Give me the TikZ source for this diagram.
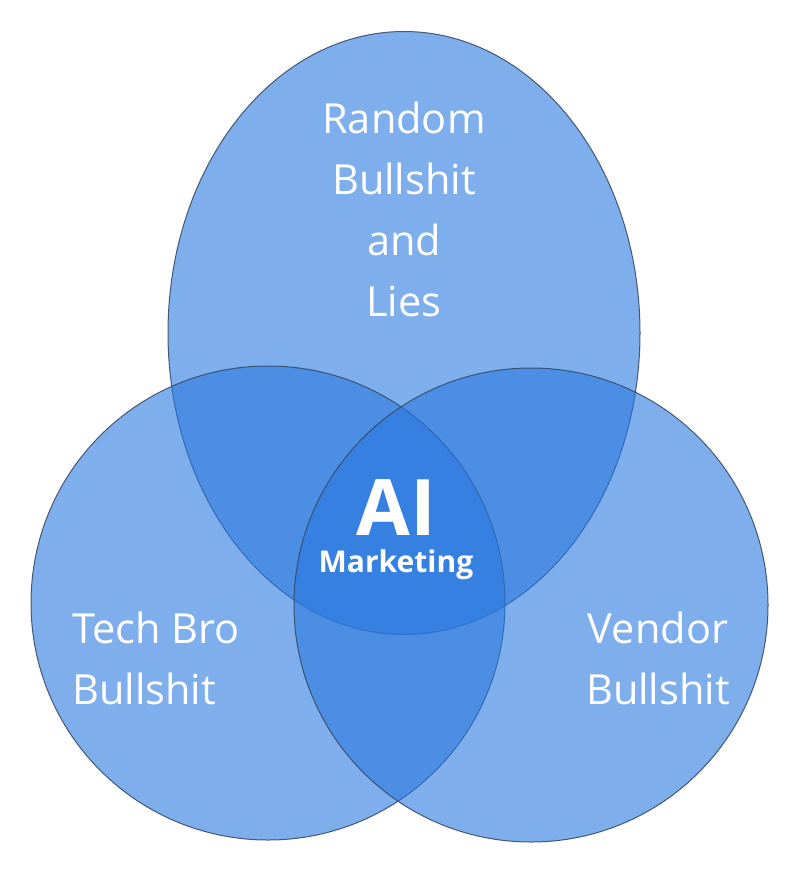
\documentclass[tikz,border=0pt]{standalone}
\usepackage{fontspec}
\setmainfont{Open Sans}
\usetikzlibrary{shapes.geometric}
\definecolor{vennblue}{RGB}{40,120,222}
\definecolor{vennline}{RGB}{55,75,105}
\tikzset{
  set/.style={fill=vennblue, fill opacity=0.6, draw=vennline, draw opacity=0.9, line width=1pt, inner sep=0pt},
  outer/.style={text=white, font=\fontsize{41.5}{61}\selectfont, inner sep=0pt},
}
\begin{document}
\begin{tikzpicture}[x=1pt,y=-1pt]
\useasboundingbox (0,0) rectangle (800,870);
\node[set, ellipse, minimum width=472pt, minimum height=603pt] (top) at (404,333) {};
\node[set, circle, minimum size=474pt] (left) at (268,603) {};
\node[set, circle, minimum size=474pt] (right) at (531,605) {};
\node[outer, align=center] (toplabel) at (404,209) {Random\\Bullshit\\and\\Lies};
\node[outer, align=left, anchor=west] (leftlabel) at (72,658) {Tech Bro\\Bullshit};
\node[outer, align=center] (rightlabel) at (658,658) {Vendor\\Bullshit};
\node[text=white, font=\bfseries\fontsize{78}{78}\selectfont, inner sep=0pt] (ai) at (396,508) {AI};
\node[text=white, font=\bfseries\fontsize{30}{30}\selectfont, inner sep=0pt] (mkt) at (396,565) {Marketing};
\end{tikzpicture}
\end{document}
